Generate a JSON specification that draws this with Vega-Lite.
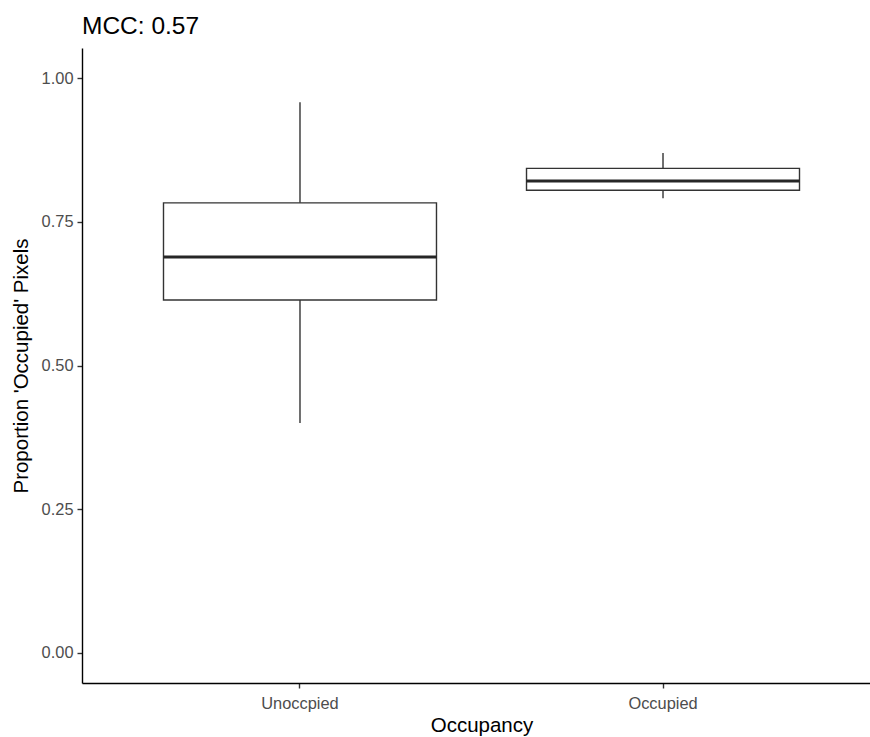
{
  "$schema": "https://vega.github.io/schema/vega-lite/v6.json",
  "autosize": "none",
  "padding": {"left": 82, "top": 48, "right": 0, "bottom": 54},
  "width": 799,
  "height": 635,
  "background": "white",
  "title": {"text": "MCC: 0.57", "anchor": "start", "frame": "group", "font": "Liberation Sans", "fontSize": 24.5, "fontWeight": "normal", "color": "black", "offset": 9},
  "config": {
    "view": {"stroke": null},
    "axis": {"labelFont": "Liberation Sans", "titleFont": "Liberation Sans", "grid": false, "domainColor": "#000000", "domainWidth": 1.4, "tickColor": "#333333", "tickWidth": 1.4, "tickSize": 5, "labelColor": "#4d4d4d", "labelFontSize": 16.4, "titleFontSize": 20.5, "titleFontWeight": "normal", "titleColor": "black"}
  },
  "data": {"values": [
    {"Occupancy": "Unoccpied", "min": 0.400, "q1": 0.614, "median": 0.689, "q3": 0.783, "max": 0.958},
    {"Occupancy": "Occupied", "min": 0.791, "q1": 0.805, "median": 0.821, "q3": 0.843, "max": 0.870}
  ]},
  "encoding": {
    "x": {"field": "Occupancy", "type": "nominal", "sort": ["Unoccpied", "Occupied"],
      "scale": {"paddingInner": 0.248, "paddingOuter": 0.2245},
      "axis": {"title": "Occupancy", "labelAngle": 0, "labelPadding": 7, "titlePadding": 4}}
  },
  "layer": [
    {"mark": {"type": "rule", "color": "#333333", "strokeWidth": 1.4},
     "encoding": {
       "y": {"field": "min", "type": "quantitative",
         "scale": {"domain": [-0.0525, 1.0525], "nice": false, "zero": false},
         "axis": {"title": "Proportion 'Occupied' Pixels", "values": [0, 0.25, 0.5, 0.75, 1], "format": ".2f", "labelPadding": 4, "titlePadding": 10}},
       "y2": {"field": "max"}}},
    {"mark": {"type": "bar", "fill": "white", "opacity": 1, "stroke": "#333333", "strokeWidth": 1.4},
     "encoding": {
       "y": {"field": "q1", "type": "quantitative"},
       "y2": {"field": "q3"}}},
    {"mark": {"type": "tick", "color": "#262626", "opacity": 1, "thickness": 3, "size": 273, "orient": "horizontal"},
     "encoding": {
       "y": {"field": "median", "type": "quantitative"}}}
  ]
}
